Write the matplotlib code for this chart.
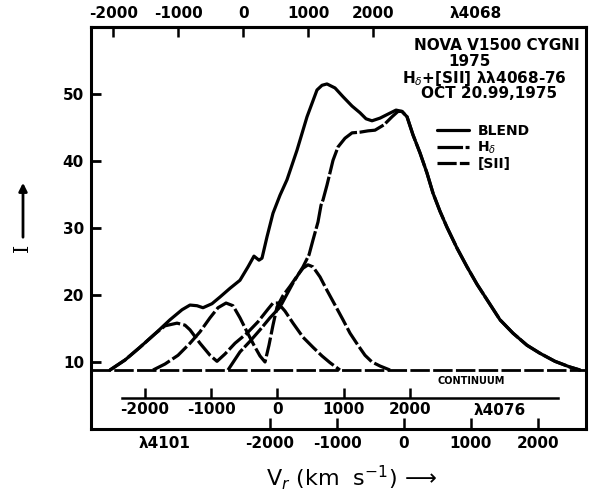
import matplotlib.pyplot as plt

# All profiles on the H-delta velocity scale (km/s); intensity in relative units
continuum = 8.8

blend_v = [-4390, -4165, -3942, -3718, -3494, -3314, -3195, -3090, -3001, -2867,
           -2747, -2598, -2449, -2329, -2240, -2165, -2120, -2045, -1956, -1851,
           -1747, -1598, -1448, -1299, -1224, -1150, -1030, -911, -776, -657,
           -567, -478, -358, -239, -119, -30, 45, 134, 239, 343,
           433, 537, 642, 791, 941, 1090, 1239, 1433, 1627, 1836,
           2030, 2254, 2478, 2628]
blend_i = [8.8, 10.3, 12.2, 14.2, 16.3, 17.8, 18.5, 18.4, 18.1, 18.7,
           19.7, 21.0, 22.2, 24.2, 25.8, 25.2, 25.5, 28.7, 32.2, 34.9,
           37.2, 41.6, 46.6, 50.6, 51.3, 51.5, 50.9, 49.6, 48.2, 47.2,
           46.3, 46.0, 46.4, 47.0, 47.6, 47.4, 46.6, 43.9, 41.2, 38.2,
           35.2, 32.5, 30.1, 27.0, 24.2, 21.6, 19.3, 16.3, 14.3, 12.5,
           11.3, 10.1, 9.25, 8.8]

# blue wing of H-delta; the red wing is the blend itself
hd_left_v = [-2628, -2449, -2299, -2150, -2001, -1851, -1657, -1508, -1418, -1359,
             -1284, -1239, -1209, -1150, -1060, -985, -881, -776, -657, -537,
             -433, -299, -179, -90]
hd_left_i = [8.8, 11.5, 13.1, 14.8, 16.6, 18.2, 21.8, 24.2, 26.0, 28.2,
             30.9, 33.4, 34.2, 36.4, 40.1, 42.1, 43.4, 44.2, 44.3, 44.5,
             44.6, 45.4, 46.6, 47.4]

# the two [SII] components
s1_v = [-4390, -4165, -3942, -3718, -3568, -3389, -3270, -3195, -3046, -2896,
        -2792, -2672, -2523, -2344, -2180, -2030, -1956, -1881, -1777, -1657,
        -1508, -1359, -1224, -1105, -956]
s1_i = [8.8, 10.3, 12.2, 14.2, 15.4, 15.8, 15.5, 14.8, 12.8, 11.0,
        10.1, 11.2, 12.8, 14.3, 16.0, 17.9, 18.8, 18.8, 17.6, 15.8,
        13.7, 12.2, 10.9, 9.9, 8.8]

s2_v = [-3747, -3568, -3374, -3195, -3046, -2896, -2777, -2657, -2553, -2449,
        -2344, -2240, -2150, -2075, -2016, -1956, -1896, -1807, -1702, -1598,
        -1508, -1433, -1359, -1254, -1150, -1030, -911, -806, -687, -582,
        -478, -358, -209]
s2_i = [8.8, 9.7, 11.0, 12.8, 14.5, 16.6, 18.1, 18.8, 18.4, 16.6,
        14.5, 12.5, 10.9, 10.0, 12.5, 15.5, 18.2, 19.9, 21.3, 22.8,
        24.0, 24.5, 24.2, 22.7, 20.7, 18.5, 16.3, 14.3, 12.5, 11.0,
        10.0, 9.4, 8.8]

hd_ticks = [-2000, -1000, 0, 1000, 2000]
s4068_ticks = [-2000, -1000, 0, 1000, 2000]
s4076_ticks = [-2000, -1000, 0, 1000, 2000]
y_ticks = [10, 20, 30, 40, 50]

# zero point and step of the [SII] velocity scales on the H-delta scale
S4068_ZERO, S4068_STEP = -2400, 0.97
S4076_ZERO, S4076_STEP = -1890, 0.99


def hd_to_4068(v):
    return (v - S4068_ZERO) / S4068_STEP


def s4068_to_hd(v):
    return v * S4068_STEP + S4068_ZERO


def s4076_to_hd(v):
    return v * S4076_STEP + S4076_ZERO


hd_v = hd_left_v + [v for v in blend_v if v >= -30]
hd_i = hd_left_i + [i for v, i in zip(blend_v, blend_i) if v >= -30]

bold = dict(fontweight='bold', family='DejaVu Sans')
LW = 2.3

fig = plt.figure(figsize=(5.89, 4.97), dpi=100)
ax = fig.add_axes([91 / 589, 68 / 497, 495 / 589, 402 / 497])
ax.set_xlim(-4673, 2717)
ax.set_ylim(0, 60)

ax.axhline(continuum, color='k', lw=2.0, ls=(0, (7, 1.2)), zorder=2)
l_blend, = ax.plot(blend_v, blend_i, color='k', lw=LW, solid_capstyle='round', zorder=4)
l_hd, = ax.plot(hd_v, hd_i, color='k', lw=LW, ls=(0, (8, 0.8)), zorder=3)
l_s, = ax.plot(s1_v, s1_i, color='k', lw=LW, ls=(0, (6, 1.0)), zorder=3)
ax.plot(s2_v, s2_i, color='k', lw=LW, ls=(0, (6, 1.0)), zorder=3)

ax.text(1000, 7.1, 'CONTINUUM', ha='center', va='center', fontsize=7, **bold)

# [SII] 4076 velocity scale inside the frame
inner_y = 4.6
ax.plot([-4210, 2300], [inner_y, inner_y], color='k', lw=1.8)
inner_pos = [s4076_to_hd(t) for t in s4076_ticks]
ax.vlines(inner_pos, inner_y, inner_y + 1.5, color='k', lw=1.8)
for p, t in zip(inner_pos, s4076_ticks):
    ax.text(p, inner_y - 0.5, f'{t}', ha='center', va='top', fontsize=11, **bold)
ax.text(1433, inner_y - 0.7, '\u03bb4076', ha='center', va='top', fontsize=11, **bold)

for sp in ax.spines.values():
    sp.set_linewidth(2.2)

# bottom: H-delta scale
ax.set_xticks([-3570] + hd_ticks)
ax.set_xticklabels(['\u03bb4101'] + [str(t) for t in hd_ticks], **bold)
ax.xaxis.get_major_ticks()[0].tick1line.set_visible(False)
ax.tick_params(axis='x', direction='in', length=8, width=1.8, pad=5, labelsize=11)

ax.set_yticks(y_ticks)
ax.set_yticklabels([str(t) for t in y_ticks], **bold)
ax.tick_params(axis='y', direction='in', length=7, width=2.0, pad=5, labelsize=11)

# top: [SII] 4068 scale
top = ax.secondary_xaxis('top', functions=(hd_to_4068, s4068_to_hd))
top.set_xticks(s4068_ticks + [3570])
top.set_xticklabels([str(t) for t in s4068_ticks] + ['\u03bb4068'], **bold)
top.xaxis.get_major_ticks()[-1].tick2line.set_visible(False)
top.tick_params(direction='in', length=7, width=1.8, pad=4, labelsize=11)
top.spines['top'].set_linewidth(2.2)

ax.legend([l_blend, l_hd, l_s], ['BLEND', 'H$_\\delta$', '[SII]'],
          loc='upper left', bbox_to_anchor=(437 / 589, (497 - 124) / 497),
          bbox_transform=fig.transFigure, frameon=False, borderpad=0,
          borderaxespad=0, handlelength=2.3, handletextpad=0.6,
          labelspacing=0.1, prop=dict(weight='bold', size=10))

fig.text(580 / 589, 1 - 45 / 497, 'NOVA V1500 CYGNI', ha='right', va='center',
         fontsize=11, **bold)
fig.text(470 / 589, 1 - 62 / 497, '1975', ha='center', va='center', fontsize=11, **bold)
fig.text(484 / 589, 1 - 78 / 497, 'H$_\\delta$+[SII] \u03bb\u03bb4068-76', ha='center',
         va='center', fontsize=11, **bold)
fig.text(489 / 589, 1 - 94 / 497, 'OCT 20.99,1975', ha='center', va='center',
         fontsize=11, **bold)

fig.text(351 / 589, 1 - 478 / 497, 'V$_r$ (km  s$^{-1}$) \u27f6', ha='center',
         va='center', fontsize=16)

fig.text(22 / 589, 1 - 248 / 497, 'I', rotation=90, ha='center', va='center',
         fontsize=15, family='DejaVu Serif')
ax.annotate('', xy=(23, 497 - 180), xytext=(23, 497 - 240), xycoords='figure pixels',
            textcoords='figure pixels',
            arrowprops=dict(arrowstyle='-|>', lw=2.0, color='k', mutation_scale=12))

fig.savefig('out.png', dpi=100, facecolor='white')
